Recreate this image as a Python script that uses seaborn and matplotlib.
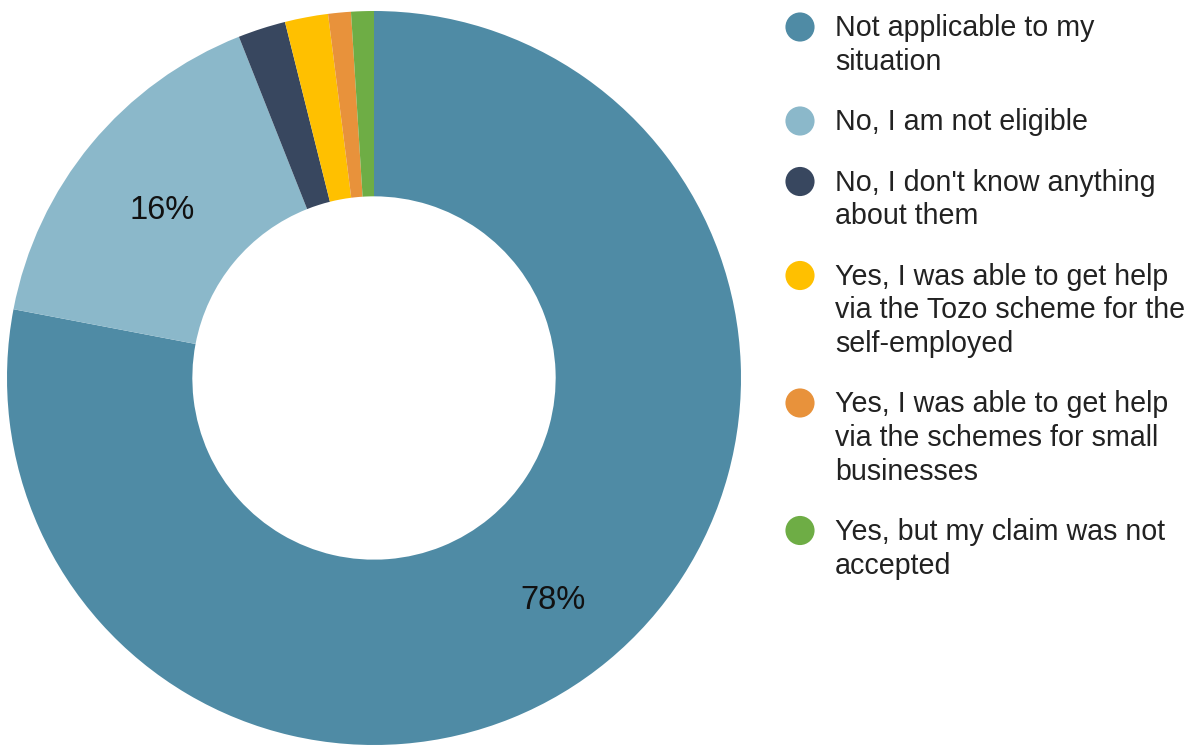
import matplotlib
matplotlib.use("Agg")
import matplotlib.pyplot as plt
import matplotlib.transforms as mtransforms
import seaborn as sns

categories = [
    "Not applicable to my\nsituation",
    "No, I am not eligible",
    "No, I don't know anything\nabout them",
    "Yes, I was able to get help\nvia the Tozo scheme for the\nself-employed",
    "Yes, I was able to get help\nvia the schemes for small\nbusinesses",
    "Yes, but my claim was not\naccepted",
]
values = [78, 16, 2.1, 1.9, 1.0, 1.0]
colors = ["#4F8BA5", "#8BB8CA", "#38475F", "#FFC000", "#E8923B", "#6EAD45"]

sns.set_theme(style="white")
plt.rcParams["font.family"] = ["Liberation Sans", "DejaVu Sans"]

W, H = 1195, 750
fig = plt.figure(figsize=(W / 100, H / 100), dpi=100)

# donut
cx, cy, R = 374, 378, 367
ax = fig.add_axes([(cx - R) / W, (H - cy - R) / H, 2 * R / W, 2 * R / H])
wedges, _, autotexts = ax.pie(
    values, colors=colors, startangle=90, counterclock=False,
    radius=1.0, wedgeprops=dict(width=0.505, linewidth=0),
    autopct=lambda p: f"{p:.0f}%" if p >= 5 else "",
    pctdistance=0.755,
    textprops=dict(fontsize=23.5, color="#111111"),
)
for t in autotexts:
    t.set_transform(mtransforms.offset_copy(t.get_transform(), fig=fig,
                                            x=2, y=-9, units="dots"))
ax.set_xlim(-1, 1)
ax.set_ylim(-1, 1)
ax.set_aspect("equal")
ax.axis("off")

# legend drawn in pixel coordinates
lg = fig.add_axes([0, 0, 1, 1])
lg.set_xlim(0, W)
lg.set_ylim(H, 0)
lg.axis("off")
lg.patch.set_alpha(0)

y = 27
lh = 33.5
gap = 27
for lab, col in zip(categories, colors):
    lg.scatter([800], [y], s=440, color=col, edgecolor="none")
    lines = lab.split("\n")
    for k, line in enumerate(lines):
        lg.text(835, y + 9.5 + k * lh, line, fontsize=20.6, color="#222222",
                va="baseline", ha="left")
    y += len(lines) * lh + gap

fig.savefig("out.png", dpi=100, facecolor="white")
